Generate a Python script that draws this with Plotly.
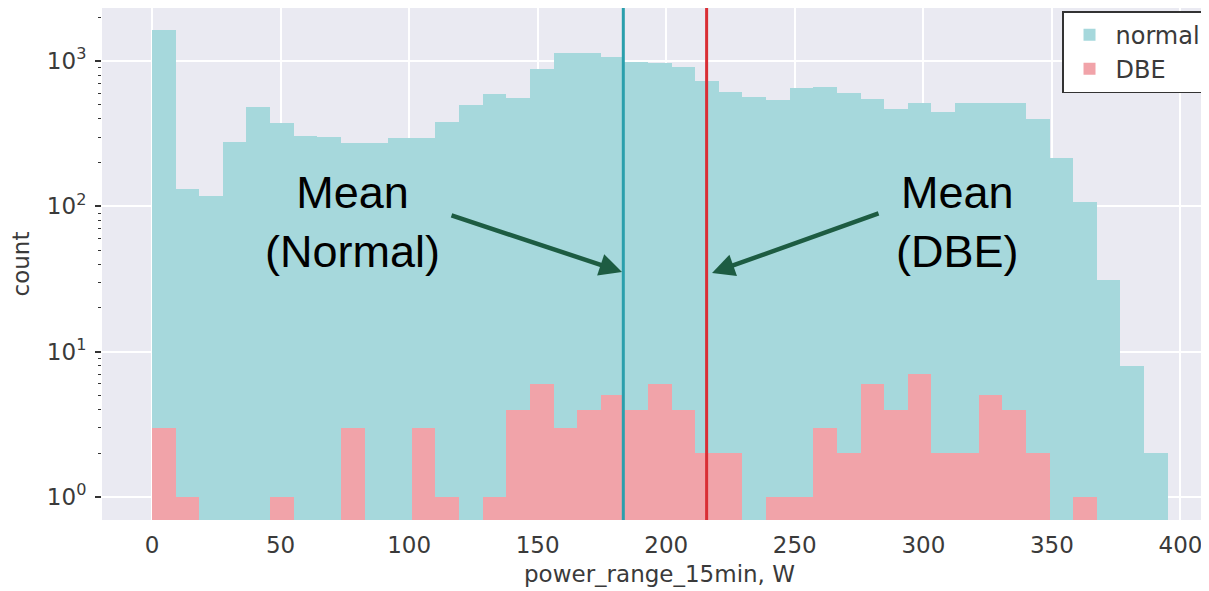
import numpy as np
import plotly.graph_objects as go

# Histogram structure (43 equal bins from 0 to 395 W)
bin_start = 0.0
bin_end = 395.0
n_bins = 43

normal_counts = [1630, 131, 118, 279, 480, 373, 306, 301, 274, 274,
                 294, 296, 380, 500, 590, 553, 881, 1130, 1140, 1060,
                 984, 964, 914, 731, 609, 568, 539, 649, 659, 605,
                 547, 465, 512, 448, 512, 512, 512, 397, 214, 107,
                 31, 8, 2]
dbe_counts = [3, 1, 0, 0, 0, 1, 0, 0, 3, 0,
              0, 3, 1, 0, 1, 4, 6, 3, 4, 5,
              4, 6, 4, 2, 2, 0, 1, 1, 3, 2,
              6, 4, 7, 2, 2, 5, 4, 2, 0, 1,
              0, 0, 0]

mean_normal = 183.3
mean_dbe = 215.7

x_ticks = [0, 50, 100, 150, 200, 250, 300, 350, 400]
y_ticks = [1, 10, 100, 1000]
y_ticktext = ["10<sup>0</sup>", "10<sup>1</sup>", "10<sup>2</sup>", "10<sup>3</sup>"]
y_minor = [m * d for d in [1, 10, 100, 1000] for m in range(2, 10)]

width = (bin_end - bin_start) / n_bins
centers = bin_start + width * (np.arange(n_bins) + 0.5)

normal_color = "#a6d8dc"
dbe_color = "#f1a3a9"

fig = go.Figure()
fig.add_trace(go.Bar(x=centers, y=normal_counts, width=width, name="normal",
                     marker=dict(color=normal_color, line=dict(width=0))))
fig.add_trace(go.Bar(x=centers, y=[v if v > 0 else None for v in dbe_counts],
                     width=width, name="DBE",
                     marker=dict(color=dbe_color, line=dict(width=0))))

# mean lines
fig.add_shape(type="line", xref="x", yref="paper", x0=mean_normal, x1=mean_normal,
              y0=0, y1=1, line=dict(color="#2a9fac", width=3))
fig.add_shape(type="line", xref="x", yref="paper", x0=mean_dbe, x1=mean_dbe,
              y0=0, y1=1, line=dict(color="#d92e35", width=3))

txt_font = dict(family="Liberation Sans, Arial, sans-serif", size=45, color="black")
fig.add_annotation(x=77.8, y=0.582, xref="x", yref="paper", text="Mean<br>(Normal)",
                   showarrow=False, font=txt_font, align="center")
fig.add_annotation(x=313.1, y=0.582, xref="x", yref="paper", text="Mean<br>(DBE)",
                   showarrow=False, font=txt_font, align="center")

arrow_color = "#1d5c42"
fig.add_annotation(x=182.8, y=1.549, xref="x", yref="y", text="", showarrow=True,
                   ax=-172, ay=-57, arrowhead=2, arrowsize=1.0, arrowwidth=4.5,
                   arrowcolor=arrow_color, standoff=0)
fig.add_annotation(x=217.8, y=1.542, xref="x", yref="y", text="", showarrow=True,
                   ax=168, ay=-60, arrowhead=2, arrowsize=1.0, arrowwidth=4.5,
                   arrowcolor=arrow_color, standoff=0)

tick_font = dict(family="DejaVu Sans", size=23, color="#3a3a3a")

fig.update_layout(
    width=1209, height=591,
    margin=dict(l=94, r=0, t=0, b=79, autoexpand=False),
    paper_bgcolor="white",
    plot_bgcolor="#eaeaf2",
    barmode="overlay",
    bargap=0,
    showlegend=True,
    legend=dict(x=0.861, y=0.994, xanchor="left", yanchor="top",
                bgcolor="white", bordercolor="#333333", borderwidth=1.5,
                font=dict(family="DejaVu Sans", size=24, color="#3a3a3a"),
                tracegroupgap=0, itemsizing="constant", itemwidth=42),
    xaxis=dict(range=[-19.45, 414.2], tickvals=x_ticks, tickfont=tick_font,
               automargin=False, ticklabelstandoff=9,
               showgrid=True, gridcolor="white", gridwidth=1.5, zeroline=False,
               ticks="", showline=False,
               title=dict(text="power_range_15min, W",
                          font=dict(family="DejaVu Sans", size=23, color="#3a3a3a"),
                          standoff=8)),
    yaxis=dict(type="log", range=[-0.158, 3.365], tickvals=y_ticks, ticktext=y_ticktext,
               automargin=False, ticklabelstandoff=4,
               tickfont=tick_font, showgrid=True, gridcolor="white", gridwidth=1.5,
               zeroline=False, ticks="outside", ticklen=6, tickcolor="#333333",
               tickwidth=1.5, showline=False,
               minor=dict(tickvals=y_minor, ticks="outside", ticklen=3,
                          tickcolor="#333333", tickwidth=1.2, showgrid=False),
               title=dict(text="count",
                          font=dict(family="DejaVu Sans", size=23, color="#3a3a3a"),
                          standoff=14)),
)

fig.write_html("out.html")
